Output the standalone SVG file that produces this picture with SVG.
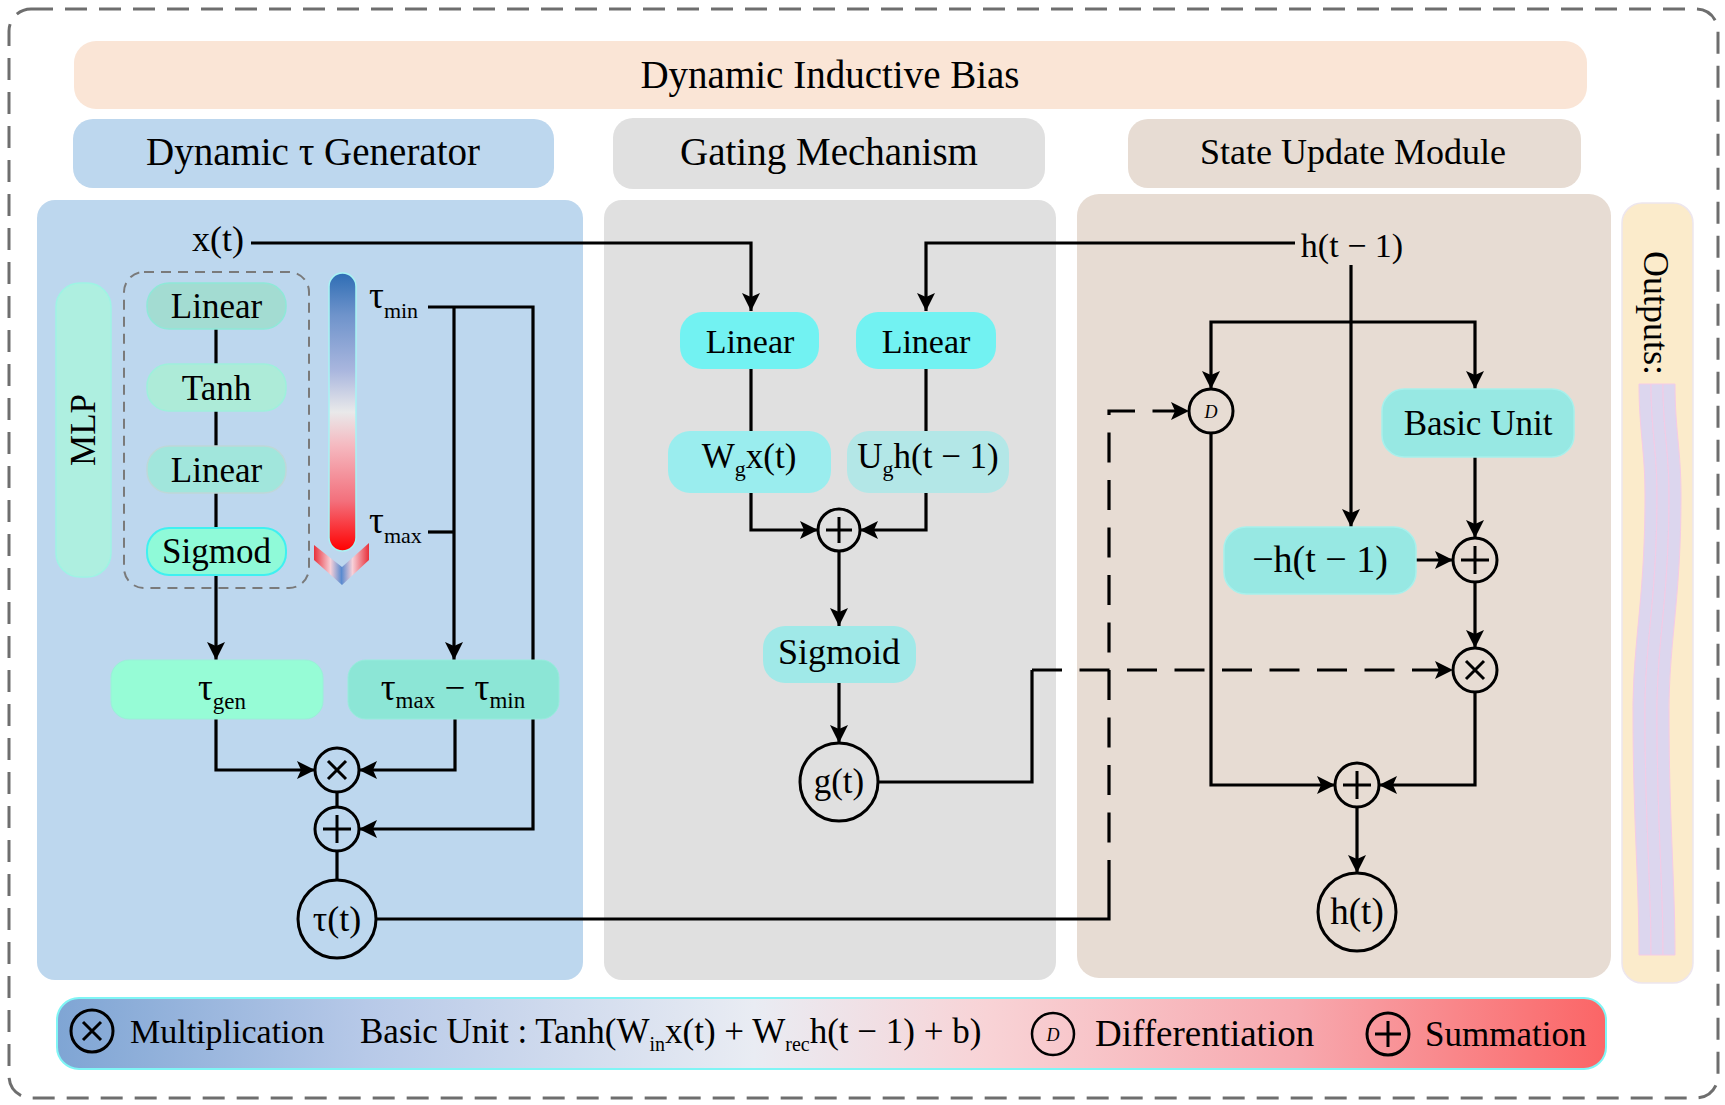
<svg xmlns="http://www.w3.org/2000/svg" width="1725" height="1105" viewBox="0 0 1725 1105">
<defs>
<style>
.t{font-family:"Liberation Serif","Times New Roman",serif;fill:#000;}
.c{text-anchor:middle;}
.ln{fill:none;stroke:#000;stroke-width:3.2;}
.arr{marker-end:url(#ah);}
.dsh{stroke-dasharray:30 17.5;}
.sym{fill:none;stroke:#000;stroke-width:3;}
.circ{fill:none;stroke:#000;stroke-width:3;}
.band{fill:#DCD6EE;stroke:#F4CBE6;stroke-width:1;}
</style>
<marker id="ah" viewBox="0 0 18 18" markerWidth="18" markerHeight="18" refX="18" refY="9" orient="auto" markerUnits="userSpaceOnUse">
<path d="M0,0 L18,9 L0,18 L4,9 Z" fill="#000"/>
</marker>
<linearGradient id="gbar" x1="0" y1="0" x2="0" y2="1">
<stop offset="0" stop-color="#2E6DB4"/>
<stop offset="0.15" stop-color="#6E93CB"/>
<stop offset="0.35" stop-color="#A9B6DE"/>
<stop offset="0.5" stop-color="#E9E9EA"/>
<stop offset="0.62" stop-color="#F5B9C0"/>
<stop offset="0.82" stop-color="#F3707C"/>
<stop offset="1" stop-color="#FF0000"/>
</linearGradient>
<linearGradient id="gchev" x1="0" y1="0" x2="1" y2="0">
<stop offset="0" stop-color="#E8303A"/>
<stop offset="0.3" stop-color="#F7D0D8"/>
<stop offset="0.5" stop-color="#5A8BD0"/>
<stop offset="0.7" stop-color="#F7D0D8"/>
<stop offset="1" stop-color="#E8303A"/>
</linearGradient>
<linearGradient id="gleg" x1="0" y1="0" x2="1" y2="0">
<stop offset="0" stop-color="#7FA5D4"/>
<stop offset="0.2" stop-color="#B7C9E8"/>
<stop offset="0.45" stop-color="#E9ECF3"/>
<stop offset="0.6" stop-color="#F8D3D6"/>
<stop offset="0.8" stop-color="#F7A9AF"/>
<stop offset="1" stop-color="#FB6566"/>
</linearGradient>
<path id="bandp" d="M-6,384 C-6,430 0,450 0,495 C0,600 -12,640 -12,713 C-12,820 -6,880 -6,955 H6 C6,880 0,820 0,713 C0,640 12,600 12,495 C12,450 6,430 6,384 Z"/>
</defs>

<rect x="0" y="0" width="1725" height="1105" fill="#FFFFFF"/>
<rect x="9" y="9" width="1709" height="1089" rx="22" fill="none" stroke="#6E6E6E" stroke-width="3" stroke-dasharray="22 12"/>

<g id="headers">
<rect x="74" y="41" width="1513" height="68" rx="22" fill="#FAE5D6"/>
<text class="t c" x="830" y="88" font-size="39">Dynamic Inductive Bias</text>
<rect x="73" y="119" width="481" height="69" rx="20" fill="#BDD7EE"/>
<text class="t c" x="313" y="165" font-size="39">Dynamic τ Generator</text>
<rect x="613" y="118" width="432" height="71" rx="20" fill="#E0E0E0"/>
<text class="t c" x="829" y="165" font-size="39">Gating Mechanism</text>
<rect x="1128" y="119" width="453" height="69" rx="20" fill="#E7DCD3"/>
<text class="t c" x="1353" y="164" font-size="36">State Update Module</text>
</g>

<g id="panels">
<rect x="37" y="200" width="546" height="780" rx="18" fill="#BDD7EE"/>
<rect x="604" y="200" width="452" height="780" rx="18" fill="#E0E0E0"/>
<rect x="1077" y="194" width="534" height="784" rx="22" fill="#E7DCD3"/>
</g>

<g id="outputs">
<rect x="1622" y="203" width="71" height="780" rx="20" fill="#FBEBCB" stroke="#EDE6EE" stroke-width="1.5"/>
<text class="t c" transform="translate(1656,313) rotate(90)" x="0" y="12" font-size="36">Outputs:</text>
<use href="#bandp" class="band" transform="translate(1645,0)"/>
<use href="#bandp" class="band" transform="translate(1657,0)"/>
<use href="#bandp" class="band" transform="translate(1669,0)"/>
</g>

<g id="tau-scale">
<rect x="329" y="273" width="27" height="278" rx="13.5" fill="url(#gbar)" stroke="#A8F4F4" stroke-width="1.5"/>
<polygon points="314,545 342,567 369,543 369,560 342,585 314,560" fill="url(#gchev)"/>
</g>

<g id="connectors">
<path class="ln arr" d="M251,243 H751 V311"/>
<path class="ln arr" d="M1295,243 H926 V311"/>
<path class="ln" d="M751,369 V431"/>
<path class="ln" d="M926,369 V431"/>
<path class="ln arr" d="M751,493 V530 H818"/>
<path class="ln arr" d="M926,493 V530 H860"/>
<path class="ln arr" d="M839,551 V626"/>
<path class="ln arr" d="M839,683 V743"/>
<path class="ln" d="M878,782 H1032 V670"/>
<path class="ln dsh arr" d="M1032,670 H1453"/>
<path class="ln" d="M376,919 H1109 V890"/>
<path class="ln dsh arr" d="M1109,890 V411 H1189"/>
<path class="ln arr" d="M1351,265 V527"/>
<path class="ln arr" d="M1351,322 H1211 V389"/>
<path class="ln arr" d="M1351,322 H1475 V389"/>
<path class="ln arr" d="M1475,457 V538"/>
<path class="ln arr" d="M1416,560 H1453"/>
<path class="ln arr" d="M1475,582 V648"/>
<path class="ln arr" d="M1211,433 V785 H1335"/>
<path class="ln arr" d="M1475,692 V785 H1379"/>
<path class="ln arr" d="M1357,807 V873"/>
<path class="ln" d="M216,329 V364"/>
<path class="ln" d="M216,411 V446"/>
<path class="ln" d="M216,493 V528"/>
<path class="ln arr" d="M216,575 V660"/>
<path class="ln arr" d="M428,307 H533 V829 H359"/>
<path class="ln arr" d="M454,307 V660"/>
<path class="ln" d="M428,532 H454"/>
<path class="ln arr" d="M216,719 V770 H315"/>
<path class="ln arr" d="M455,719 V770 H359"/>
<path class="ln" d="M337,792 V807"/>
<path class="ln" d="M337,851 V880"/>
</g>

<g id="mlp">
<rect x="56" y="283" width="55" height="294" rx="24" fill="#AEEFE0" stroke="#9EF4E4" stroke-width="1.5"/>
<text class="t c" transform="translate(83,430) rotate(-90)" x="0" y="12" font-size="35">MLP</text>
<rect x="124" y="272" width="185" height="316" rx="20" fill="none" stroke="#7A7A7A" stroke-width="2" stroke-dasharray="10 7"/>
</g>
<g id="mlp-linear1">
<rect x="147" y="283" width="139" height="46" rx="22" fill="#A3DCD2" stroke="#8FE8D8" stroke-width="1.5"/>
<text class="t c" x="216.5" y="318" font-size="35">Linear</text>
</g>
<g id="mlp-tanh">
<rect x="147" y="364" width="139" height="47" rx="22" fill="#ADEBD8" stroke="#9EF0DC" stroke-width="1.5"/>
<text class="t c" x="216.5" y="400" font-size="35">Tanh</text>
</g>
<g id="mlp-linear2">
<rect x="147" y="446" width="139" height="47" rx="22" fill="#A1E6DC" stroke="#BED8D8" stroke-width="1.5"/>
<text class="t c" x="216.5" y="482" font-size="35">Linear</text>
</g>
<g id="mlp-sigmod">
<rect x="147" y="528" width="139" height="47" rx="22" fill="#8FFAD8" stroke="#3FF0F0" stroke-width="2"/>
<text class="t c" x="216.5" y="563" font-size="35">Sigmod</text>
</g>

<g id="x-input">
<text class="t" x="192" y="251" font-size="36">x(t)</text>
</g>
<g id="tau-min">
<text class="t" x="369" y="308" font-size="37">τ<tspan font-size="22" dy="10">min</tspan></text>
</g>
<g id="tau-max">
<text class="t" x="369" y="533" font-size="37">τ<tspan font-size="22" dy="10">max</tspan></text>
</g>
<g id="tau-gen">
<rect x="111" y="660" width="212" height="59" rx="18" fill="#96FCD6" stroke="#9AF0D8" stroke-width="1"/>
<text class="t c" x="222" y="700" font-size="37">τ<tspan font-size="23" dy="9">gen</tspan></text>
</g>
<g id="tau-range">
<rect x="348" y="660" width="211" height="59" rx="18" fill="#8CE6D6" stroke="#96ECDC" stroke-width="1"/>
<text class="t c" x="453" y="700" font-size="37">τ<tspan font-size="23" dy="8">max</tspan><tspan dy="-8"> − τ</tspan><tspan font-size="23" dy="8">min</tspan></text>
</g>
<g id="mul-tau">
<circle class="circ" cx="337" cy="770" r="22"/>
<path class="sym" d="M328,761 L346,779 M346,761 L328,779"/>
</g>
<g id="sum-tau">
<circle class="circ" cx="337" cy="829" r="22"/>
<path class="sym" d="M323,829 H351 M337,815 V843"/>
</g>
<g id="tau-t">
<circle class="circ" cx="337" cy="919" r="39"/>
<text class="t c" x="337" y="931" font-size="36">τ(t)</text>
</g>

<g id="linear-x">
<rect x="680" y="312" width="139" height="57" rx="22" fill="#72F2F2"/>
<text class="t c" x="750" y="353" font-size="34">Linear</text>
</g>
<g id="linear-h">
<rect x="856" y="312" width="140" height="57" rx="22" fill="#72F2F2"/>
<text class="t c" x="926" y="353" font-size="34">Linear</text>
</g>
<g id="wgx">
<rect x="668" y="431" width="163" height="62" rx="22" fill="#9AEDEE"/>
<text class="t c" x="749" y="468" font-size="35">W<tspan font-size="22" dy="8">g</tspan><tspan dy="-8">x(t)</tspan></text>
</g>
<g id="ugh">
<rect x="847" y="431" width="162" height="62" rx="22" fill="#B3E7E7"/>
<text class="t c" x="928" y="468" font-size="35">U<tspan font-size="22" dy="8">g</tspan><tspan dy="-8">h(t − 1)</tspan></text>
</g>
<g id="sum-gate">
<circle class="circ" cx="839" cy="530" r="21"/>
<path class="sym" d="M826,530 H852 M839,517 V543"/>
</g>
<g id="sigmoid">
<rect x="763" y="626" width="153" height="57" rx="22" fill="#A0E9E8"/>
<text class="t c" x="839" y="664" font-size="36">Sigmoid</text>
</g>
<g id="g-t">
<circle class="circ" cx="839" cy="782" r="39"/>
<text class="t c" x="839" y="793" font-size="35">g(t)</text>
</g>

<g id="h-prev">
<text class="t c" x="1352" y="257" font-size="34">h(t − 1)</text>
</g>
<g id="diff">
<circle class="circ" cx="1211" cy="411" r="22"/>
<text class="t c" x="1211" y="418" font-size="18" font-style="italic">D</text>
</g>
<g id="basic-unit">
<rect x="1382" y="389" width="192" height="68" rx="22" fill="#97E8E3" stroke="#A8F0EC" stroke-width="1.5"/>
<text class="t c" x="1478" y="435" font-size="35">Basic Unit</text>
</g>
<g id="neg-h">
<rect x="1224" y="527" width="192" height="67" rx="22" fill="#97E8E3" stroke="#A8F0EC" stroke-width="1.5"/>
<text class="t c" x="1320" y="572" font-size="38">−h(t − 1)</text>
</g>
<g id="sum-state">
<circle class="circ" cx="1475" cy="560" r="22"/>
<path class="sym" d="M1461,560 H1489 M1475,546 V574"/>
</g>
<g id="mul-state">
<circle class="circ" cx="1475" cy="670" r="22"/>
<path class="sym" d="M1466,661 L1484,679 M1484,661 L1466,679"/>
</g>
<g id="sum-out">
<circle class="circ" cx="1357" cy="785" r="22"/>
<path class="sym" d="M1343,785 H1371 M1357,771 V799"/>
</g>
<g id="h-t">
<circle class="circ" cx="1357" cy="912" r="39"/>
<text class="t c" x="1357" y="924" font-size="37">h(t)</text>
</g>

<g id="legend">
<rect x="57" y="998" width="1549" height="71" rx="22" fill="url(#gleg)" stroke="#7FF5F5" stroke-width="2"/>
<circle class="circ" cx="92" cy="1031" r="21"/>
<path class="sym" d="M83,1022 L101,1040 M101,1022 L83,1040"/>
<text class="t" x="130" y="1043" font-size="34">Multiplication</text>
<text class="t" x="360" y="1043" font-size="35">Basic Unit : Tanh(W<tspan font-size="20" dy="8">in</tspan><tspan dy="-8">x(t) + W</tspan><tspan font-size="20" dy="8">rec</tspan><tspan dy="-8">h(t − 1) + b)</tspan></text>
<circle cx="1053" cy="1034" r="21" fill="none" stroke="#000" stroke-width="2.5"/>
<text class="t c" x="1053" y="1041" font-size="18" font-style="italic">D</text>
<text class="t" x="1095" y="1046" font-size="37">Differentiation</text>
<circle class="circ" cx="1388" cy="1034" r="21"/>
<path class="sym" d="M1375,1034 H1401 M1388,1021 V1047"/>
<text class="t" x="1425" y="1046" font-size="35">Summation</text>
</g>
</svg>
